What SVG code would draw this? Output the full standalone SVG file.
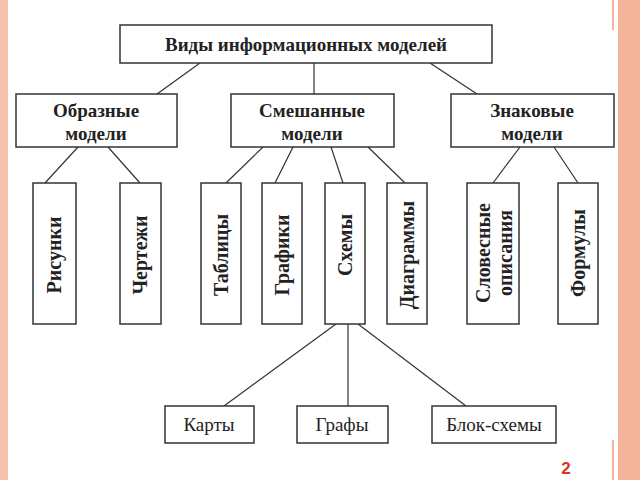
<svg xmlns="http://www.w3.org/2000/svg" width="640" height="480" viewBox="0 0 640 480">
<style>
.b{fill:#fff;stroke:#333;stroke-width:1.5}
.t{font-family:"Liberation Serif",serif;font-size:19px;fill:#222;text-anchor:middle}
.h{font-weight:bold}
.v{font-size:20px}
#connectors line{stroke:#333;stroke-width:1.2}
</style>
<rect width="640" height="480" fill="#fff"/>
<rect x="0" y="0" width="8" height="480" fill="#f6c1ae"/>
<rect x="618" y="0" width="22" height="480" fill="#f4b49c"/>
<rect x="612" y="0" width="2" height="30" fill="#f4b49c"/>
<rect x="612" y="440" width="2" height="40" fill="#f4b49c"/>
<g id="connectors">
<line x1="200" y1="63" x2="157" y2="94"/><line x1="314" y1="63" x2="314" y2="94"/><line x1="430" y1="63" x2="477" y2="94"/>
<line x1="78" y1="147" x2="45" y2="183"/><line x1="108" y1="147" x2="140" y2="183"/>
<line x1="263" y1="147" x2="226" y2="183"/><line x1="293" y1="147" x2="275" y2="183"/><line x1="331" y1="147" x2="343" y2="183"/><line x1="368" y1="147" x2="405" y2="183"/>
<line x1="520" y1="147" x2="493" y2="183"/><line x1="554" y1="147" x2="578" y2="183"/>
<line x1="336" y1="324" x2="224" y2="406"/><line x1="348" y1="324" x2="348" y2="406"/><line x1="358" y1="324" x2="466" y2="406"/>
</g>
<g id="root"><rect class="b" x="120" y="25" width="372" height="38"/><text class="t h" x="306" y="51" font-size="21">Виды информационных моделей</text></g>
<g id="obr"><rect class="b" x="16" y="94" width="161" height="53"/><text class="t h" x="96" y="117">Образные</text><text class="t h" x="96" y="140">модели</text></g>
<g id="sme"><rect class="b" x="231" y="94" width="163" height="53"/><text class="t h" x="312" y="117">Смешанные</text><text class="t h" x="312" y="140">модели</text></g>
<g id="zna"><rect class="b" x="451" y="94" width="163" height="53"/><text class="t h" x="532" y="117">Знаковые</text><text class="t h" x="532" y="140">модели</text></g>
<g id="ris"><rect class="b" x="33" y="183" width="43" height="141"/><text class="t h v" transform="translate(61,255) rotate(-90)">Рисунки</text></g>
<g id="cher"><rect class="b" x="120" y="183" width="41" height="141"/><text class="t h v" transform="translate(147,255) rotate(-90)">Чертежи</text></g>
<g id="tab"><rect class="b" x="201" y="183" width="40" height="141"/><text class="t h v" transform="translate(228,255) rotate(-90)">Таблицы</text></g>
<g id="gra"><rect class="b" x="262" y="183" width="40" height="141"/><text class="t h v" transform="translate(289,255) rotate(-90)">Графики</text></g>
<g id="sx"><rect class="b" x="325" y="183" width="40" height="141"/><text class="t h v" transform="translate(352,245) rotate(-90)">Схемы</text></g>
<g id="dia"><rect class="b" x="387" y="183" width="40" height="141"/><text class="t h v" transform="translate(414,255) rotate(-90)">Диаграммы</text></g>
<g id="slo"><rect class="b" x="467" y="183" width="52" height="141"/><text class="t h v" transform="translate(490,253) rotate(-90)">Словесные</text><text class="t h v" transform="translate(512,253) rotate(-90)">описания</text></g>
<g id="for"><rect class="b" x="558" y="183" width="40" height="141"/><text class="t h v" transform="translate(585,253) rotate(-90)">Формулы</text></g>
<g id="kar"><rect class="b" x="165" y="406" width="89" height="37"/><text class="t" x="209" y="431">Карты</text></g>
<g id="grf"><rect class="b" x="297" y="406" width="91" height="37"/><text class="t" x="342" y="431">Графы</text></g>
<g id="blk"><rect class="b" x="432" y="406" width="124" height="37"/><text class="t" x="494" y="431">Блок-схемы</text></g>
<text x="566" y="474" font-family="Liberation Sans,sans-serif" font-weight="bold" font-size="17" fill="#e0301e" text-anchor="middle">2</text>
</svg>
